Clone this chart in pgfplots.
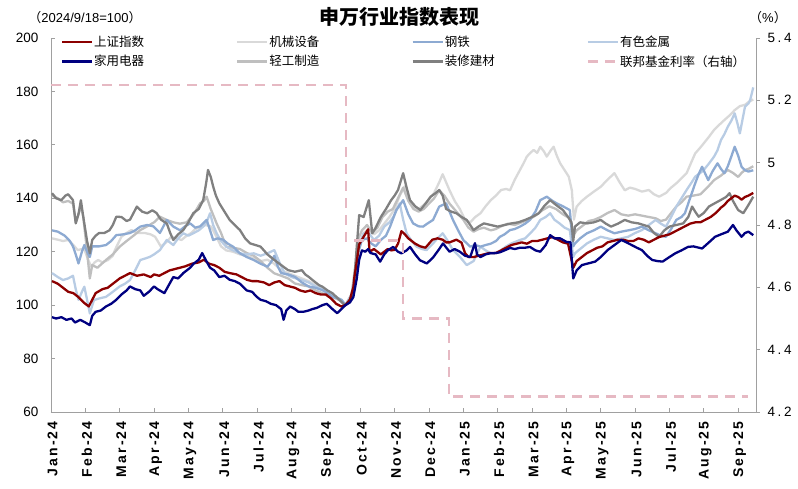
\documentclass[border=0pt]{standalone}
\usepackage{fontspec}
\setmainfont{Liberation Sans}
\newfontfamily\cjk{Noto Sans CJK SC}
\usepackage{pgfplots}
\pgfplotsset{compat=1.18}
\definecolor{shred}{RGB}{140,0,0}
\definecolor{jixie}{RGB}{217,217,217}
\definecolor{gangtie}{RGB}{141,170,210}
\definecolor{youse}{RGB}{184,204,228}
\definecolor{jiadian}{RGB}{0,0,128}
\definecolor{qinggong}{RGB}{191,191,191}
\definecolor{zhuangxiu}{RGB}{128,128,128}
\definecolor{fedc}{RGB}{230,185,195}
\definecolor{axisgray}{RGB}{160,160,160}
\begin{document}
\begin{tikzpicture}
\useasboundingbox (-51pt,-76pt) rectangle (747pt,412pt);
\begin{axis}[at={(0,0)},anchor=south west,scale only axis,
  width=705pt,height=374pt,
  xmin=0,xmax=20.52,ymin=60,ymax=200,
  ytick={60,80,...,200},
  xtick={0,...,20},
  xticklabels={Jan-24,Feb-24,Mar-24,Apr-24,May-24,Jun-24,Jul-24,Aug-24,Sep-24,Oct-24,Nov-24,Dec-24,Jan-25,Feb-25,Mar-25,Apr-25,May-25,Jun-25,Jul-25,Aug-25,Sep-25},
  axis x line*=bottom,axis y line*=left,
  axis line style={axisgray,line width=0.8pt,-},
  tick style={axisgray,line width=0.8pt},
  tick align=inside,major tick length=4pt,
  /pgf/number format/assume math mode=true,
  yticklabel style={font=\fontsize{13.5}{13.5}\selectfont,xshift=-9pt},
  xticklabel style={rotate=90,anchor=east,font=\bfseries\fontsize{14}{14}\selectfont\addfontfeature{LetterSpace=15},xshift=-6pt,yshift=-1.5pt},
  legend columns=4,
  legend image code/.code={\draw[#1] (0pt,0pt) -- (30pt,0pt);},
  legend style={at={(axis description cs:0.0095,1)},anchor=north west,yshift=5pt,
    draw=none,fill=none,font=\cjk\fontsize{12.5}{14}\selectfont,row sep=5pt,
    nodes={text width=141pt,inner sep=1pt,align=left}},
  every axis plot/.append style={line width=2.3pt,line join=round},
]
% machinery
\addplot[jixie,forget plot] coordinates {(0.03,125)(0.2,124.5)(0.35,124)(0.5,124.4)(0.65,122.5)(0.78,120.6)(0.9,121)(0.98,120.6)(1.08,117)(1.17,114.4)(1.27,116)(1.37,116.9)(1.5,116)(1.66,116.9)(1.8,118.5)(1.86,120.6)(1.95,123)(2.05,125.6)(2.2,127)(2.34,128.1)(2.5,127)(2.73,127)(2.9,126.5)(3.03,125.6)(3.2,121.9)(3.35,123.5)(3.5,125.6)(3.65,125)(3.8,124.4)(3.95,126)(4.08,127)(4.2,128.5)(4.37,129.4)(4.5,130)(4.66,129.4)(4.8,126)(4.95,122)(5.1,120.5)(5.3,120)(5.5,119)(5.7,118.5)(5.9,117.5)(6.1,116.5)(6.3,117)(6.5,115.5)(6.7,113)(6.9,112)(7.1,111)(7.3,110)(7.5,109)(7.7,107.5)(7.9,106.5)(8.1,104)(8.3,102.5)(8.45,101.5)(8.57,100)(8.75,104)(8.85,112)(8.95,122)(9.1,127)(9.25,128.5)(9.4,126.5)(9.55,128)(9.7,130.5)(9.85,133)(10.0,136)(10.15,141)(10.3,144.5)(10.4,140)(10.55,137)(10.7,136)(10.85,137.5)(11.0,139.5)(11.15,142)(11.3,146)(11.4,149)(11.5,146)(11.6,143)(11.75,139)(11.9,136)(12.05,132)(12.2,131)(12.35,133)(12.5,134.4)(12.65,137)(12.8,139.3)(12.95,141)(13.1,143.1)(13.25,143.5)(13.36,143)(13.5,147)(13.65,150.6)(13.75,153)(13.85,155.6)(13.95,157)(14.05,158.1)(14.15,157)(14.24,159.3)(14.35,157.5)(14.43,155.6)(14.55,158)(14.63,159.3)(14.72,156)(14.82,153.1)(14.95,150.5)(15.07,148.1)(15.16,143)(15.22,132)(15.3,136.9)(15.45,139)(15.6,140.6)(15.8,142.5)(16.0,144.3)(16.2,147)(16.4,149.4)(16.55,146)(16.7,143)(16.85,144)(17.0,143.5)(17.2,142.5)(17.4,143.1)(17.55,141.5)(17.7,140.6)(17.9,142)(18.05,144)(18.2,145.6)(18.35,147.5)(18.5,149.4)(18.62,153)(18.75,156.8)(18.9,159)(19.0,160.6)(19.15,163)(19.3,165.6)(19.45,167.5)(19.6,169.3)(19.75,171)(19.9,173)(20.05,174.5)(20.2,175)(20.3,176)(20.44,177)};
% light industry
\addplot[qinggong,forget plot] coordinates {(0.03,141)(0.2,140)(0.35,138.5)(0.5,139)(0.64,138)(0.72,131)(0.87,137)(0.94,133)(1.05,120)(1.13,110)(1.2,115)(1.35,114)(1.6,116.9)(1.8,119)(2.0,121.9)(2.2,124)(2.4,126)(2.6,128.1)(2.8,129.5)(3.0,131)(3.17,133.1)(3.35,132)(3.56,131)(3.75,130.5)(3.95,131)(4.15,134)(4.34,138.1)(4.45,139)(4.53,140.6)(4.65,136)(4.82,130.6)(4.95,127)(5.1,121.9)(5.3,121.5)(5.5,121)(5.7,119.5)(5.9,118.5)(6.1,116.5)(6.3,114)(6.5,111.9)(6.7,111)(6.9,110)(7.1,108.1)(7.3,107.5)(7.5,107)(7.7,105.5)(7.9,104.5)(8.1,103.1)(8.3,102.5)(8.46,101.5)(8.57,100)(8.75,104)(8.85,114)(8.95,125)(9.05,128)(9.2,130)(9.35,127)(9.5,129)(9.65,133)(9.8,135)(9.95,136)(10.1,140)(10.25,144)(10.4,139)(10.55,136)(10.7,135)(10.85,136)(11.0,138)(11.15,140)(11.3,143)(11.45,141)(11.6,138)(11.8,135)(12.0,132)(12.15,129)(12.3,127.5)(12.45,128.5)(12.6,129)(12.8,128)(12.95,128.5)(13.1,129.5)(13.3,130.5)(13.5,130)(13.7,131)(13.9,132)(14.1,133.5)(14.3,135.5)(14.5,137)(14.7,136)(14.9,134)(15.1,132.5)(15.2,126)(15.3,128)(15.5,130)(15.65,131.5)(15.8,131.9)(16.0,133)(16.2,134.5)(16.4,135.6)(16.6,134)(16.8,133.5)(17.0,134)(17.2,133.5)(17.4,133)(17.6,132.5)(17.75,131.5)(17.9,132)(18.05,134.5)(18.2,136.9)(18.35,138.5)(18.5,140.6)(18.7,141)(18.9,141.5)(19.1,144)(19.3,146.8)(19.5,148.5)(19.7,150.6)(19.85,149.5)(20.0,148)(20.1,149.5)(20.2,150.6)(20.3,151)(20.44,152)};
% nonferrous
\addplot[youse,forget plot] coordinates {(0.03,112)(0.2,110.5)(0.35,109.4)(0.5,110)(0.64,111)(0.72,106)(0.8,102)(0.9,105)(0.97,106.9)(1.05,102)(1.13,96.9)(1.25,101.9)(1.4,102.5)(1.6,103.1)(1.8,105)(2.0,107)(2.15,108)(2.3,109.4)(2.45,113)(2.6,116.9)(2.75,117.5)(2.88,118.1)(3.0,119)(3.17,120.6)(3.37,124.4)(3.56,122.5)(3.7,125)(3.85,126.9)(4.0,126)(4.14,126.9)(4.3,128)(4.43,129.4)(4.53,131)(4.63,134.4)(4.72,130)(4.82,126.9)(4.95,124)(5.1,121.9)(5.3,120.5)(5.5,119.4)(5.7,119)(5.9,119.4)(6.1,118.5)(6.3,119.4)(6.5,120.6)(6.65,116)(6.8,111.9)(7.0,110.5)(7.3,109.4)(7.5,108.5)(7.7,107)(7.9,106)(8.1,104.4)(8.3,103)(8.46,102)(8.57,100)(8.75,104)(8.85,112)(8.95,122)(9.1,126.9)(9.25,127)(9.4,124.4)(9.55,126)(9.7,129.4)(9.85,131)(9.97,133.1)(10.15,138.1)(10.25,132)(10.35,126.9)(10.5,124)(10.64,121.9)(10.8,121)(10.93,120.6)(11.12,123.1)(11.25,125)(11.4,126.9)(11.55,124)(11.7,120.6)(11.9,118.1)(12.1,115)(12.3,116.5)(12.5,121.9)(12.65,120.5)(12.8,119.4)(12.95,119.5)(13.1,120.6)(13.25,122)(13.4,123.1)(13.65,124.4)(13.8,125)(13.95,126.9)(14.1,129)(14.24,131.9)(14.4,133)(14.53,134.4)(14.65,132)(14.8,130.6)(14.95,129)(15.1,128.1)(15.2,118)(15.25,119.4)(15.4,121)(15.6,123.1)(15.8,124.5)(16.0,125.6)(16.2,125)(16.4,124.4)(16.6,125)(16.8,125.6)(17.0,127)(17.2,128.1)(17.4,130)(17.6,131.9)(17.75,130.5)(17.9,129.4)(18.05,133)(18.2,136.9)(18.35,140)(18.5,143.1)(18.65,146)(18.75,148.1)(18.9,149.5)(19.0,150.6)(19.15,153)(19.3,155.6)(19.4,158)(19.5,161.8)(19.6,164)(19.7,166.8)(19.8,169)(19.9,171.8)(19.98,168)(20.05,164.3)(20.12,169)(20.2,174.3)(20.3,175.5)(20.35,176.8)(20.44,181.5)};
% steel
\addplot[gangtie,forget plot] coordinates {(0.03,128)(0.2,127.5)(0.4,126)(0.55,124)(0.64,122)(0.72,119)(0.8,115.6)(0.9,120)(0.97,122.5)(1.05,120)(1.13,118)(1.2,122)(1.4,122)(1.6,122.5)(1.75,124)(1.9,126.2)(2.1,126.5)(2.3,127)(2.45,128)(2.6,129.4)(2.8,130)(2.98,129.5)(3.17,127)(3.37,131.9)(3.56,129.4)(3.76,128)(3.9,129.5)(4.05,130.6)(4.2,129)(4.34,129.5)(4.53,131.9)(4.63,128)(4.72,124.4)(4.85,125)(5.01,124.5)(5.15,123)(5.3,121.9)(5.5,119.4)(5.7,118)(5.9,116.9)(6.1,115.5)(6.3,114.4)(6.4,116)(6.5,118.5)(6.6,114.5)(6.7,112)(6.9,111.5)(7.1,110.6)(7.3,108.5)(7.5,107)(7.7,106.5)(7.9,105.6)(8.05,104.5)(8.2,103.1)(8.35,102.5)(8.46,101.9)(8.57,100)(8.75,103)(8.85,110)(8.95,120)(9.05,124.4)(9.2,125)(9.3,123.3)(9.45,122)(9.6,124.4)(9.75,126)(9.87,129.4)(10.05,135.6)(10.25,139.3)(10.4,134)(10.54,130.6)(10.7,129.5)(10.83,129.4)(10.95,130.5)(11.12,131.9)(11.3,136.9)(11.5,138.1)(11.6,135)(11.7,131.9)(11.85,128)(12.0,124.4)(12.2,121.9)(12.35,122.5)(12.5,121.9)(12.65,122.5)(12.8,123)(12.95,124)(13.07,125.6)(13.2,126.5)(13.36,128.1)(13.5,128.5)(13.65,129.4)(13.8,130.5)(13.94,131.9)(14.1,135)(14.24,139.3)(14.43,140.6)(14.6,139)(14.72,138.1)(14.9,137)(15.1,135.6)(15.2,122)(15.25,123.1)(15.4,125)(15.6,126.9)(15.8,128)(16.0,129.4)(16.2,128)(16.4,126.9)(16.6,127.5)(16.8,128)(17.0,128.5)(17.2,129.4)(17.4,128)(17.6,126.9)(17.75,126)(17.9,125.6)(18.05,128.5)(18.2,131.9)(18.35,133)(18.45,134.4)(18.6,140)(18.75,145.6)(18.85,149)(18.95,151.8)(19.05,149)(19.13,146.8)(19.25,150)(19.4,153.1)(19.5,151)(19.6,149.4)(19.7,152)(19.8,155.6)(19.9,159.3)(20.0,156)(20.1,151.8)(20.2,150.5)(20.3,150)(20.44,150.5)};
% decoration materials
\addplot[zhuangxiu,forget plot] coordinates {(0.03,141.9)(0.15,140)(0.3,139.3)(0.42,141)(0.5,141.5)(0.64,139.3)(0.72,130.6)(0.8,134)(0.87,139.3)(0.94,133)(1.05,124)(1.13,119.4)(1.2,124.4)(1.3,126)(1.4,127)(1.55,127)(1.7,128)(1.8,130)(1.9,133.1)(2.05,133)(2.2,131.5)(2.3,132)(2.5,136.9)(2.65,135)(2.8,134.4)(2.95,135.5)(3.07,134.5)(3.2,132)(3.37,130.6)(3.47,127)(3.56,124.4)(3.7,126.5)(3.85,128.1)(4.0,131)(4.14,134.4)(4.3,136)(4.43,139.3)(4.52,146)(4.57,150.6)(4.65,148)(4.72,144.4)(4.8,141)(4.9,138.1)(5.05,135)(5.2,131.9)(5.35,130)(5.5,128.1)(5.65,125)(5.8,123.1)(5.95,122.5)(6.1,121.9)(6.3,119)(6.5,116.9)(6.7,115)(6.9,113.1)(7.1,112.5)(7.3,113.1)(7.4,111.5)(7.5,110.6)(7.65,109)(7.8,107.5)(7.9,106.9)(8.05,105.5)(8.2,104.4)(8.35,102.5)(8.5,100.6)(8.57,100)(8.7,102)(8.8,104.4)(8.9,122)(8.97,133.7)(9.1,133)(9.25,139.3)(9.35,126.9)(9.45,129)(9.6,133)(9.75,136)(9.9,139.3)(10.0,141)(10.1,143.1)(10.25,149.4)(10.35,144)(10.45,139.3)(10.6,137)(10.75,135.6)(10.9,138)(11.05,140.6)(11.2,142)(11.3,143.1)(11.4,141)(11.5,136)(11.65,135)(11.8,134.4)(11.95,133)(12.1,131.9)(12.2,130)(12.3,128.1)(12.45,129.5)(12.6,130.6)(12.8,130)(13.0,129.4)(13.2,130)(13.4,130.6)(13.6,131)(13.8,131.9)(14.0,133)(14.2,134.4)(14.35,137)(14.53,139.3)(14.7,137.5)(14.9,135.6)(15.05,133)(15.15,131)(15.2,124)(15.25,129.4)(15.4,131)(15.6,130.6)(15.8,131)(16.0,131.9)(16.15,130.5)(16.3,129.4)(16.5,130.5)(16.7,131.9)(16.9,131)(17.1,130.6)(17.25,130)(17.4,129.4)(17.55,127)(17.7,125.6)(17.85,128)(18.0,129.4)(18.2,130)(18.4,130.6)(18.55,133)(18.66,136.9)(18.75,135)(18.85,133.1)(19.0,134.5)(19.15,136.9)(19.3,138)(19.5,139.4)(19.65,140.5)(19.75,141.9)(19.85,139)(20.0,135.6)(20.15,134.4)(20.3,137.5)(20.44,140.6)};
% SSE index
\addplot[shred,forget plot] coordinates {(0.03,109)(0.2,108)(0.35,106.5)(0.5,105)(0.65,104.5)(0.8,103)(0.95,101)(1.1,99.5)(1.2,102)(1.3,104.5)(1.5,106)(1.65,106.5)(1.8,108)(2.0,110)(2.15,111)(2.3,112)(2.5,111)(2.7,111.5)(2.9,110.5)(3.0,111.5)(3.15,111)(3.3,112)(3.45,113)(3.6,113.5)(3.75,114)(3.9,114.5)(4.1,115.5)(4.3,116)(4.45,117)(4.6,115.5)(4.75,115)(4.9,114)(5.05,112.5)(5.2,112)(5.4,111.5)(5.55,110.5)(5.7,109.5)(5.85,109)(6.0,109)(6.2,108.5)(6.35,107.5)(6.5,108.5)(6.65,109)(6.8,107.5)(6.95,107)(7.1,106.5)(7.25,105.5)(7.4,105)(7.55,105.5)(7.7,104.5)(7.85,104)(8.0,104)(8.15,102.5)(8.3,100.5)(8.45,99.5)(8.57,100)(8.7,102)(8.77,105.4)(8.8,106.6)(8.83,110.4)(8.87,113.7)(8.97,122.8)(9.23,128.4)(9.27,120)(9.4,121)(9.5,120)(9.6,119)(9.7,120)(9.8,121)(9.9,120.5)(10.0,120.7)(10.1,123)(10.2,127.7)(10.3,126.5)(10.4,125)(10.5,124)(10.6,123)(10.75,122)(10.9,121.5)(11.0,123)(11.1,124.5)(11.25,125)(11.4,124.5)(11.5,123.5)(11.6,123.5)(11.7,124)(11.8,124.5)(11.95,123.4)(12.05,119.5)(12.15,118)(12.3,118)(12.45,118.5)(12.6,119)(12.75,119.5)(12.95,119.5)(13.1,120.5)(13.25,121.5)(13.4,122.5)(13.55,123)(13.7,123.5)(13.85,123)(14.0,124)(14.15,124)(14.3,124.5)(14.45,125)(14.6,125.5)(14.75,124.5)(14.9,123.5)(15.05,123)(15.2,114)(15.3,116.5)(15.45,118)(15.6,119.5)(15.75,120.5)(15.9,121.5)(16.05,122)(16.2,123.5)(16.35,124)(16.5,124.5)(16.65,124.5)(16.8,124)(16.95,124)(17.1,125)(17.25,124.5)(17.4,123.5)(17.55,124.5)(17.7,125.5)(17.85,126)(18.0,126.5)(18.15,127.5)(18.3,128.5)(18.45,129.5)(18.6,130.5)(18.75,131)(18.9,131)(19.05,132)(19.2,133)(19.35,134.5)(19.5,136.5)(19.6,137.5)(19.7,139)(19.8,140)(19.9,141)(20.0,140.5)(20.1,139.5)(20.2,140.5)(20.3,141)(20.44,142)};
% home appliances
\addplot[jiadian,forget plot] coordinates {(0.03,95.5)(0.15,95)(0.3,95.5)(0.45,94.5)(0.6,95)(0.7,93.5)(0.85,94.5)(1.0,93.5)(1.13,92.5)(1.2,96)(1.3,97.5)(1.45,98)(1.6,99.5)(1.75,100.5)(1.9,102)(2.05,104)(2.2,105.5)(2.3,107)(2.45,106)(2.6,105.5)(2.7,103.5)(2.85,105)(3.0,107)(3.1,106)(3.3,104.5)(3.45,108)(3.56,110.5)(3.7,110)(3.85,112)(3.95,113)(4.05,114)(4.15,115.5)(4.3,117)(4.4,119.5)(4.5,117)(4.63,114)(4.75,113)(4.9,110.5)(5.05,111)(5.2,109.5)(5.35,109)(5.5,108)(5.7,105.5)(5.85,105)(6.0,103)(6.1,102)(6.25,101.5)(6.4,100.5)(6.55,100)(6.7,98.5)(6.77,94.5)(6.85,98)(6.96,99.5)(7.1,98.5)(7.2,97.5)(7.34,97.5)(7.5,98)(7.6,98.5)(7.74,99)(7.9,100)(8.03,100.5)(8.15,99)(8.33,97)(8.45,98.5)(8.57,100)(8.7,101)(8.8,103)(8.9,110)(8.97,117)(9.05,120.5)(9.15,120)(9.23,121)(9.3,119.5)(9.45,119)(9.58,116.3)(9.7,119)(9.8,120.5)(9.96,121.8)(10.1,120)(10.2,119.4)(10.35,120.5)(10.45,121.8)(10.6,119)(10.74,116.8)(10.94,115.6)(11.13,118)(11.3,121)(11.41,123.1)(11.6,120)(11.75,121)(11.9,120)(12.05,118.5)(12.2,118)(12.34,123.2)(12.4,119)(12.5,118)(12.65,119)(12.78,119.4)(12.95,119.5)(13.07,119.8)(13.2,120.5)(13.36,121.4)(13.5,121)(13.65,121.5)(13.8,121.5)(13.94,121.8)(14.1,120.5)(14.24,120)(14.4,122.5)(14.53,126.2)(14.65,125)(14.82,125)(15.0,123.7)(15.12,123.5)(15.2,110)(15.3,113)(15.45,115)(15.6,115.5)(15.84,116.3)(16.0,118)(16.2,120.6)(16.4,122.5)(16.6,124.4)(16.75,123.5)(16.9,122.5)(17.05,121.5)(17.2,120.6)(17.35,118.5)(17.5,116.9)(17.65,116.5)(17.8,116.3)(18.0,118)(18.17,119.4)(18.35,120.5)(18.54,121.8)(18.7,122)(18.95,121.2)(19.15,123.5)(19.33,125.6)(19.5,126.5)(19.7,127.5)(19.85,130)(19.95,128)(20.1,125.6)(20.2,127)(20.3,127.5)(20.44,126.2)};
\addlegendimage{shred,line width=2.3pt}\addlegendentry{上证指数}
\addlegendimage{jixie,line width=2.3pt}\addlegendentry{机械设备}
\addlegendimage{gangtie,line width=2.3pt}\addlegendentry{钢铁}
\addlegendimage{youse,line width=2.3pt}\addlegendentry{有色金属}
\addlegendimage{jiadian,line width=2.3pt}\addlegendentry{家用电器}
\addlegendimage{qinggong,line width=2.3pt}\addlegendentry{轻工制造}
\addlegendimage{zhuangxiu,line width=2.3pt}\addlegendentry{装修建材}
\addlegendimage{fedc,line width=2.3pt,dash pattern=on 10pt off 7pt}\addlegendentry{联邦基金利率（右轴）}
\end{axis}
\begin{axis}[at={(0,0)},anchor=south west,scale only axis,
  width=705pt,height=374pt,
  xmin=0,xmax=20.52,ymin=4.2,ymax=5.4,
  ytick={4.2,4.4,4.6,4.8,5,5.2,5.4},
  axis y line*=right,axis x line=none,
  axis line style={axisgray,line width=0.8pt,-},
  tick style={axisgray,line width=0.8pt},
  tick align=outside,major tick length=4pt,
  /pgf/number format/assume math mode=true,
  yticklabel style={font=\fontsize{13.5}{13.5}\selectfont\addfontfeature{LetterSpace=20},xshift=4pt},
]
\addplot[const plot,fedc,line width=2.3pt,dash pattern=on 10pt off 7pt] coordinates {(0,5.25)(8.58,4.75)(10.24,4.5)(11.59,4.25)(20.3,4.25)};
\end{axis}
\node[font=\cjk\bfseries\fontsize{20}{20}\selectfont] at (348pt,395pt) {申万行业指数表现};
\node[font=\fontsize{13}{13}\selectfont] at (34pt,394pt) {{\cjk （}2024/9/18=100{\cjk ）}};
\node[font=\fontsize{13}{13}\selectfont] at (717pt,394pt) {{\cjk （}\%{\cjk ）}};
\end{tikzpicture}
\end{document}
